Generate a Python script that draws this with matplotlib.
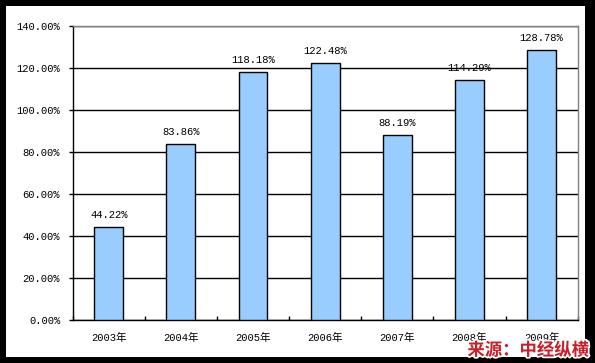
import matplotlib
matplotlib.use("Agg")
import matplotlib.pyplot as plt
import matplotlib.patheffects as pe
from matplotlib.patches import Rectangle
import numpy as np

years = ["2003年", "2004年", "2005年", "2006年", "2007年", "2008年", "2009年"]
rates = [44.22, 83.86, 118.18, 122.48, 88.19, 114.29, 128.78]
yticks = [0, 20, 40, 60, 80, 100, 120, 140]

fonts = ["Liberation Mono", "Noto Sans CJK SC", "DejaVu Sans"]
plt.rcParams["font.family"] = fonts

fig = plt.figure(figsize=(5.95, 3.63), dpi=100, facecolor="black")
# white inner panel inside black frame
fig.patches.append(Rectangle((6 / 595, 6 / 363), 579 / 595, 351 / 363,
                             transform=fig.transFigure, facecolor="white",
                             edgecolor="none", zorder=-10))

ax = fig.add_axes([0.1222, 0.1176, 0.8487, 0.8107])
ax.set_zorder(1)
ax.set_facecolor("white")

x = np.arange(len(years))
ax.bar(x, rates, width=0.4, color="#99CCFF", edgecolor="black", linewidth=1, zorder=3)

for xi, v in zip(x, rates):
    ax.annotate("%.2f%%" % v, (xi, v), xytext=(0, 5), textcoords="offset points",
                ha="center", va="bottom", fontsize=7.6, color="black")

ax.set_xlim(-0.5, len(years) - 0.5)
ax.set_ylim(0, 140)
ax.set_yticks(yticks)
ax.set_yticklabels(["%.2f%%" % t for t in yticks], fontsize=7.6)
ax.yaxis.grid(True, color="black", linewidth=1, zorder=1)
ax.set_axisbelow(True)

ax.set_xticks(x)
ax.set_xticklabels(years, fontsize=7.6)
ax.set_xticks(np.arange(len(years) + 1) - 0.5, minor=True)
ax.tick_params(axis="x", which="major", length=0, pad=9)
ax.tick_params(axis="x", which="minor", direction="in", length=3, width=1)
ax.tick_params(axis="y", direction="out", length=3, width=1, pad=6)

for side in ["left", "bottom"]:
    ax.spines[side].set_color("black")
    ax.spines[side].set_linewidth(1)
for side in ["top", "right"]:
    ax.spines[side].set_color("#808080")
    ax.spines[side].set_linewidth(1)

fig.text(0.99, 0.01, "来源：中经纵横", ha="right", va="bottom", fontsize=12.5,
         fontweight="bold", color="#C8202A",
         family=["Noto Sans CJK SC"], zorder=5,
         path_effects=[pe.withStroke(linewidth=2.5, foreground="white")])

fig.savefig("out.png", dpi=100, facecolor="black")
